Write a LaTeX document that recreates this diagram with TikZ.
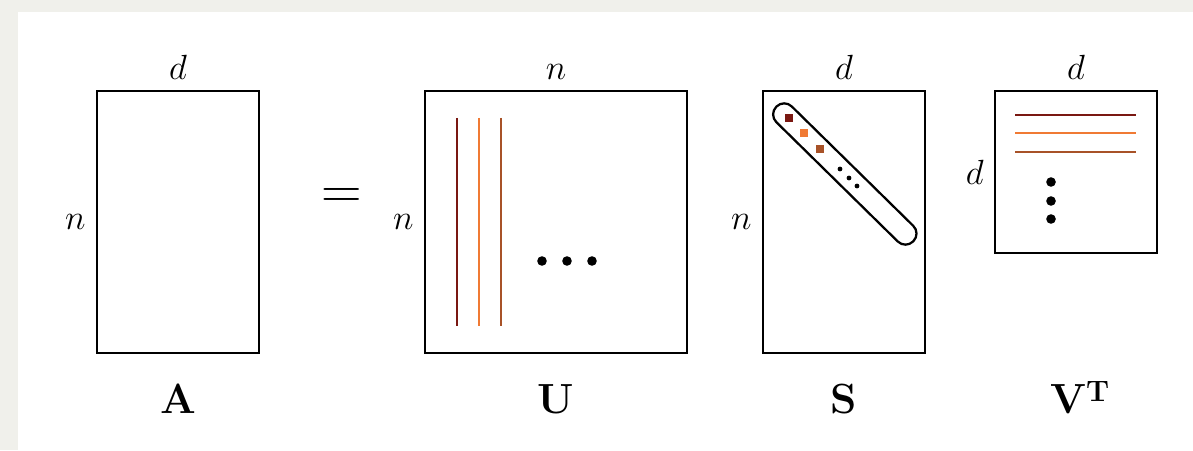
\documentclass[tikz,border=0pt]{standalone}
\usepackage{amsmath}
\usepackage{xcolor}
\usetikzlibrary{positioning}

\definecolor{bgray}{RGB}{240,240,235}
\definecolor{svdone}{RGB}{122,24,18}
\definecolor{svdtwo}{RGB}{240,122,52}
\definecolor{svdthree}{RGB}{168,82,40}

\begin{document}
\begin{tikzpicture}[
    mat/.style={
        draw,
        line width=1.6pt,
        inner sep=0pt,
        minimum width=4.05cm,
        minimum height=6.55cm
    },
    dim/.style={font=\fontsize{26}{30}\selectfont, inner sep=0pt},
    matname/.style={font=\fontsize{30}{34}\selectfont\bfseries, inner sep=0pt},
    vec/.style={line width=2.1pt},
    band/.style={
        draw,
        line width=1.6pt,
        rounded corners=0.27cm,
        minimum width=4.8cm,
        minimum height=0.55cm,
        inner sep=0pt,
        rotate=-44.5
    }
]

% page
\fill[bgray] (0,0) rectangle (29.825,11.25);
\fill[white] (0.45,0) rectangle (29.825,10.95);
\useasboundingbox (0,0) rectangle (29.825,11.25);

\node[mat] (A) at (4.45,5.7) {};
\node[mat, minimum width=6.55cm] (U) at (13.9,5.7) {};
\node[mat] (S) at (21.1,5.7) {};
\node[mat, minimum height=4.05cm] (V) at (26.9,6.95) {};

\node[font=\fontsize{40}{44}\selectfont, inner sep=0pt] (eq) at (8.55,6.3) {=};

% sizes
\node[dim, above=0.25cm of A] (Atop) {$d$};
\node[dim, left=0.25cm of A] (Aleft) {$n$};
\node[dim, above=0.25cm of U] (Utop) {$n$};
\node[dim, left=0.25cm of U] (Uleft) {$n$};
\node[dim, above=0.25cm of S] (Stop) {$d$};
\node[dim, left=0.25cm of S] (Sleft) {$n$};
\node[dim, above=0.25cm of V] (Vtop) {$d$};
\node[dim, left=0.25cm of V] (Vleft) {$d$};

% names
\node[matname, below=0.75cm of A] (Aname) {A};
\node[matname, below=0.75cm of U] (Uname) {U};
\node[matname, below=0.75cm of S] (Sname) {S};
\node[matname, anchor=base, xshift=0.1cm] (Vname) at (V |- Aname.base) {V$^{\textbf{T}}$};

% columns of U
\draw[vec, svdone] (11.425,8.3) -- (11.425,3.1);
\draw[vec, svdtwo] (11.975,8.3) -- (11.975,3.1);
\draw[vec, svdthree] (12.525,8.3) -- (12.525,3.1);
\foreach \x in {13.55,14.175,14.8}
    \fill (\x,4.725) circle (0.12);

% diagonal of S
\node[band] (diag) at (21.12,6.9) {};
\fill[svdone] (19.725,8.3) ++(-0.09,-0.09) rectangle ++(0.18,0.18);
\fill[svdtwo] (20.1,7.925) ++(-0.09,-0.09) rectangle ++(0.18,0.18);
\fill[svdthree] (20.5,7.525) ++(-0.09,-0.09) rectangle ++(0.18,0.18);
\foreach \x/\y in {21/7.025,21.225/6.8,21.425/6.6}
    \fill (\x,\y) circle (0.06);

% rows of V^T
\draw[vec, svdone] (25.375,8.375) -- (28.4,8.375);
\draw[vec, svdtwo] (25.375,7.925) -- (28.4,7.925);
\draw[vec, svdthree] (25.375,7.45) -- (28.4,7.45);
\foreach \y in {6.7,6.225,5.775}
    \fill (26.275,\y) circle (0.12);

\end{tikzpicture}
\end{document}
